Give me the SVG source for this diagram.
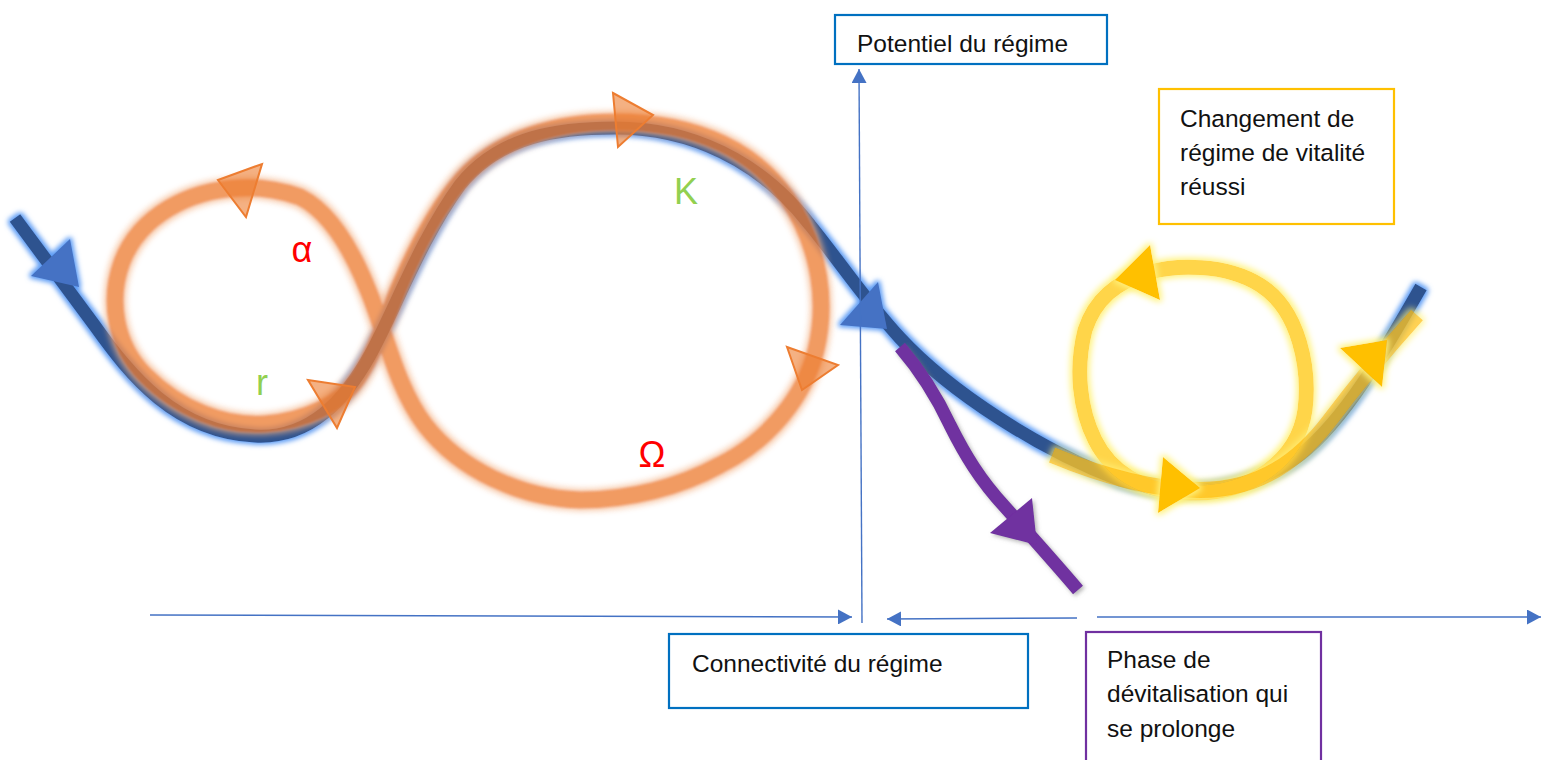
<svg xmlns="http://www.w3.org/2000/svg" width="1541" height="760" viewBox="0 0 1541 760">
<style>
.box{fill:#fff;stroke-width:2.2}
.t{font-family:"Liberation Sans",Arial,sans-serif;font-size:24.5px;fill:#111}
.axis{stroke:#4472C4;stroke-width:1.4;fill:none}
.greek{font-family:"Liberation Sans",Arial,sans-serif;font-size:36px;text-anchor:middle}
.blue{fill:none;stroke:#2F528F;stroke-width:13}
.orange{fill:none;stroke:#ED7D31;stroke-width:17}
.oarrow{fill:#ED7D31;fill-opacity:0.6;stroke:#ED7D31;stroke-width:2;stroke-linejoin:miter}
.yel{fill:none;stroke:#FFD54A;stroke-width:15}
.ytail{fill:none;stroke:#FFC000;stroke-width:16;stroke-opacity:0.72}
.yarrow{fill:#FFC000}
.purple{fill:none;stroke:#7030A0;stroke-width:13}
</style>
<defs>
<marker id="ah" markerUnits="userSpaceOnUse" markerWidth="15" markerHeight="15" refX="14" refY="7.5" orient="auto">
<path d="M0,0 L14,7.5 L0,15 z" fill="#4472C4"/>
</marker>
<filter id="gBlue" filterUnits="userSpaceOnUse" x="0" y="0" width="1541" height="760">
<feMorphology in="SourceAlpha" operator="dilate" radius="2" result="d"/>
<feGaussianBlur in="d" stdDeviation="2.5" result="b"/>
<feFlood flood-color="#5B9BF5"/>
<feComposite in2="b" operator="in" result="glow"/>
<feMerge><feMergeNode in="glow"/><feMergeNode in="SourceGraphic"/></feMerge>
</filter>
<filter id="gOrange" filterUnits="userSpaceOnUse" x="0" y="0" width="1541" height="760">
<feMorphology in="SourceAlpha" operator="dilate" radius="1.5" result="d"/>
<feGaussianBlur in="d" stdDeviation="3" result="b"/>
<feFlood flood-color="#F4B183"/>
<feComposite in2="b" operator="in" result="glow"/>
<feGaussianBlur in="SourceGraphic" stdDeviation="0.8" result="s"/>
<feMerge><feMergeNode in="glow"/><feMergeNode in="s"/></feMerge>
</filter>
<filter id="gYellow" filterUnits="userSpaceOnUse" x="0" y="0" width="1541" height="760">
<feMorphology in="SourceAlpha" operator="dilate" radius="2" result="d"/>
<feGaussianBlur in="d" stdDeviation="3" result="b"/>
<feFlood flood-color="#FFF27A"/>
<feComposite in2="b" operator="in" result="g1"/>
<feComposite in="g1" in2="SourceAlpha" operator="out" result="glow"/>
<feMerge><feMergeNode in="glow"/><feMergeNode in="SourceGraphic"/></feMerge>
</filter>
<filter id="gPurple" filterUnits="userSpaceOnUse" x="0" y="0" width="1541" height="760">
<feDropShadow dx="2" dy="2" stdDeviation="2" flood-color="#777" flood-opacity="0.55"/>
</filter>
</defs>

<g id="regime-path" filter="url(#gBlue)">
<path class="blue" d="M15,218 L95,326 C130,375 175,432 255,436 C310,439 345,400 370,355 C395,310 420,240 460,185 C500,135 560,128 615,128 C690,128 760,160 810,225 C840,262 865,300 900,338 C950,392 1040,450 1120,480 C1180,500 1250,492 1300,455 C1345,420 1385,350 1421,287"/>
<polygon fill="#4472C4" points="70,239 31,276 79,287"/>
<polygon fill="#4472C4" points="878,282 840,325 887,329"/>
</g>

<g id="adaptive-cycle">
<g filter="url(#gOrange)" opacity="0.76">
<path class="orange" d="M240,188 C190,190 140,215 122,262 C108,300 115,345 145,375 C180,410 225,427 265,424 C305,421 340,405 358,378 C375,352 385,322 398,290 C415,250 435,210 463,178 C500,137 560,122 615,122 C695,122 760,150 795,210 C818,250 828,300 816,350 C805,395 770,440 720,465 C680,487 630,500 580,500 C520,498 460,470 425,425 C395,385 385,330 368,290 C352,250 330,212 300,197 C280,190 260,187 240,188 Z"/>
</g>
<polygon class="oarrow" points="218,180 262,164 246,217"/>
<polygon class="oarrow" points="308,380 355,387 337,428"/>
<polygon class="oarrow" points="613,93 653,115 618,147"/>
<polygon class="oarrow" points="787,347 838,365 802,390"/>
<text class="greek" x="302" y="262" fill="#FF0000">α</text>
<text class="greek" x="262" y="395" fill="#92D050">r</text>
<text class="greek" x="686" y="204" fill="#92D050">K</text>
<text class="greek" x="652" y="467" fill="#FF0000">Ω</text>
</g>

<g id="successful-change">
<g filter="url(#gYellow)">
<path class="yel" d="M1150,272 C1175,265 1225,263 1260,285 C1300,310 1310,370 1305,410 C1298,460 1250,495 1190,493 C1140,492 1110,470 1095,440 C1080,410 1075,370 1085,330 C1095,300 1115,282 1150,272 Z"/>
</g>
<g filter="url(#gYellow)">
<path class="ytail" d="M1052,455 C1100,475 1150,490 1200,490 C1260,490 1300,460 1330,420 C1360,380 1390,345 1417,315"/>
</g>
<g filter="url(#gYellow)">
<polygon class="yarrow" points="1115,280 1150,245 1160,300"/>
<polygon class="yarrow" points="1200,488 1163,457 1158,513"/>
<polygon class="yarrow" points="1387,340 1340,348 1382,387"/>
</g>
</g>

<g id="devitalisation" filter="url(#gPurple)">
<path class="purple" d="M900,347 C918,368 935,393 950,425 C965,455 980,480 1005,507 C1030,535 1055,563 1078,590"/>
<polygon fill="#7030A0" points="1037,545 990,533 1032,498"/>
</g>

<g id="connectors">
<line class="axis" x1="862" y1="623" x2="859" y2="69" marker-end="url(#ah)"/>
<line class="axis" x1="150" y1="615" x2="852" y2="617" marker-end="url(#ah)"/>
<line class="axis" x1="1077" y1="618" x2="887" y2="619" marker-end="url(#ah)"/>
<line class="axis" x1="1097" y1="617" x2="1541" y2="617" marker-end="url(#ah)"/>
</g>

<g id="potentiel">
<rect class="box" x="835" y="15" width="272" height="49" stroke="#0070C0"/>
<text class="t" x="857" y="52">Potentiel du régime</text>
</g>

<g id="connectivite">
<rect class="box" x="669" y="634" width="359" height="74" stroke="#0070C0"/>
<text class="t" x="692" y="672">Connectivité du régime</text>
</g>

<g id="changement">
<rect class="box" x="1159" y="89" width="235" height="135" stroke="#FFC000"/>
<text class="t" x="1180" y="127">Changement de</text>
<text class="t" x="1180" y="161">régime de vitalité</text>
<text class="t" x="1180" y="195">réussi</text>
</g>

<g id="phase">
<rect class="box" x="1086" y="632" width="235" height="140" stroke="#7030A0"/>
<text class="t" x="1107" y="668">Phase de</text>
<text class="t" x="1107" y="702">dévitalisation qui</text>
<text class="t" x="1107" y="737">se prolonge</text>
</g>
</svg>
